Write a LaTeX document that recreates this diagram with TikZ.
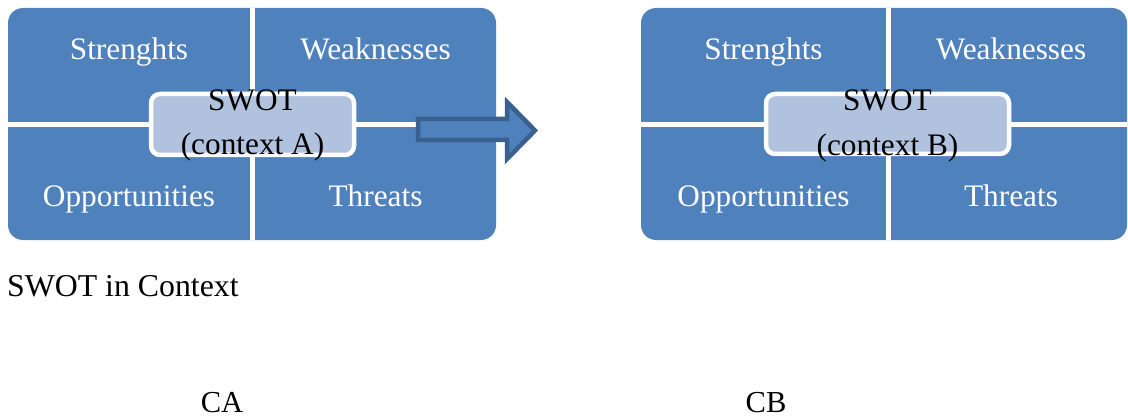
\documentclass[tikz,border=0pt]{standalone}
\usepackage{fontspec}
\setmainfont{Liberation Serif}
\definecolor{swotblue}{HTML}{4F81BD}
\definecolor{swotlight}{HTML}{B1C2DE}
\definecolor{arrowedge}{HTML}{3A6090}
\tikzset{
  block/.style={fill=swotblue, rounded corners=15pt},
  gapline/.style={draw=white, line width=5pt},
  centerbox/.style={draw=white, fill=swotlight, line width=4.5pt, rounded corners=9pt},
  lab/.style={text=white, font=\fontsize{31.3}{37}\selectfont, inner sep=0pt, anchor=base},
  ctr/.style={text=black, font=\fontsize{31.3}{37}\selectfont, inner sep=0pt, anchor=base},
  plain/.style={text=black, font=\fontsize{30.5}{37}\selectfont, inner sep=0pt, anchor=base},
  blockarrow/.style={fill=swotblue, draw=arrowedge, line width=4.5pt}
}
\begin{document}
\begin{tikzpicture}[x=1pt,y=-1pt]
\useasboundingbox (0,0) rectangle (1128,417);
% left SWOT block
\fill[block] (8,8) rectangle (496,240);
\draw[gapline] (252.5,8) -- (252.5,240);
\draw[gapline] (8,124.5) -- (496,124.5);
\node[lab] (sA) at (129,60) {Strenghts};
\node[lab] (wA) at (375.5,60) {Weaknesses};
\node[lab] (oA) at (129,207) {Opportunities};
\node[lab] (tA) at (375.5,207) {Threats};
\draw[centerbox] (151,94) rectangle (354,155);
\node[ctr] (swotA) at (252.5,111) {SWOT};
\node[ctr] (ctxA) at (252.5,155) {(context A)};
% block arrow
\draw[blockarrow] (418,119) -- (507,119) -- (507,102) -- (535,130.5) -- (507,159) -- (507,140) -- (418,140) -- cycle;
% right SWOT block
\fill[block] (641,8) rectangle (1127,240);
\draw[gapline] (888.5,8) -- (888.5,240);
\draw[gapline] (641,124.5) -- (1127,124.5);
\node[lab] (sB) at (763.5,60) {Strenghts};
\node[lab] (wB) at (1011,60) {Weaknesses};
\node[lab] (oB) at (763.5,207) {Opportunities};
\node[lab] (tB) at (1011,207) {Threats};
\draw[centerbox] (766,94) rectangle (1009,154);
\node[ctr] (swotB) at (887.5,111) {SWOT};
\node[ctr] (ctxB) at (887.5,156) {(context B)};
% captions
\node[plain, anchor=base west, font=\fontsize{31.8}{37}\selectfont] (cap) at (7,296) {SWOT in Context};
\node[plain] (ca) at (222,412) {CA};
\node[plain] (cb) at (766,412) {CB};
\end{tikzpicture}
\end{document}
